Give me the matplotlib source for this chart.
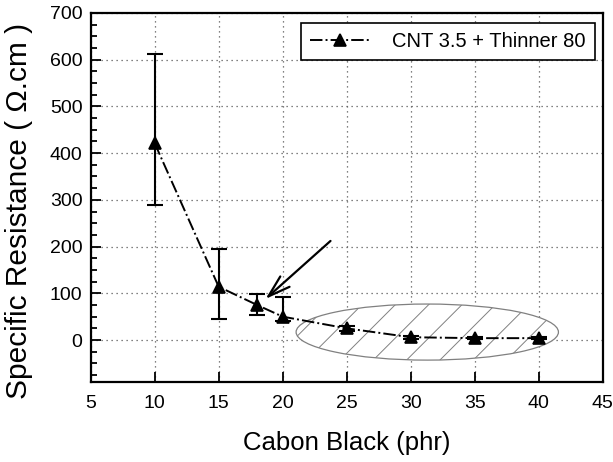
import numpy as np
import matplotlib.pyplot as plt
from matplotlib.patches import Ellipse
from matplotlib.ticker import MultipleLocator

plt.rcParams['font.family'] = ['Liberation Sans', 'DejaVu Sans']
plt.rcParams['hatch.linewidth'] = 0.7

# datos
carbon = [10, 15, 18, 20, 25, 30, 35, 40]
resist = [421, 114, 75, 50, 25, 6, 4, 4]
err_low = [131, 69, 21, 10, 6, 3, 2, 2]
err_up = [191, 80, 23, 41, 6, 3, 2, 2]
etiqueta = "CNT 3.5 + Thinner 80"

fig = plt.figure(figsize=(6.13, 4.62), dpi=100)
ax = fig.add_axes([0.148, 0.173, 0.835, 0.799])

ax.set_xlim(5, 45)
ax.set_ylim(-90, 700)
ax.xaxis.set_major_locator(MultipleLocator(5))
ax.yaxis.set_major_locator(MultipleLocator(100))
ax.yaxis.set_minor_locator(MultipleLocator(25))
ax.tick_params(which='both', direction='in', labelsize=14, width=1.3)
ax.tick_params(which='major', length=7)
ax.tick_params(which='minor', length=4)
ax.tick_params(axis='x', pad=9)
ax.tick_params(axis='y', pad=6)
for s in ax.spines.values():
    s.set_linewidth(1.6)
ax.grid(True, linestyle=(0, (1, 3)), color='0.35', linewidth=0.9)
ax.set_axisbelow(True)

# zona rayada
elipse = Ellipse((31.3, 17), 20.5, 120, facecolor='white', edgecolor='0.5',
                 hatch='/', linewidth=0.9, zorder=2)
ax.add_patch(elipse)

ax.errorbar(carbon, resist, yerr=[err_low, err_up], fmt='none',
            ecolor='black', elinewidth=1.5, capsize=5.5, capthick=1.5, zorder=4)
ax.plot(carbon, resist, linestyle='-.', color='black', linewidth=1.4,
        marker='^', markersize=8, markerfacecolor='black',
        markeredgecolor='black', markeredgewidth=1.2, label=etiqueta, zorder=5)

ax.annotate('', xy=(18.5, 84), xytext=(23.9, 216),
            arrowprops=dict(arrowstyle='->,head_length=1.6,head_width=0.5',
                            color='black', linewidth=1.6), zorder=7)

leg = ax.legend(loc='upper right', fontsize=14.5, fancybox=False, framealpha=1,
                edgecolor='black', handlelength=3.0, borderpad=0.45,
                handletextpad=1.1, borderaxespad=0.3,
                bbox_to_anchor=(0.997, 0.99))
leg.get_frame().set_linewidth(1.2)

ax.set_xlabel('Cabon Black (phr)', fontsize=18.5, labelpad=14)
ax.set_ylabel('Specific Resistance ( \u03a9.cm )', fontsize=21.5)
ax.yaxis.set_label_coords(-0.112, 0.463)

plt.savefig('out.png', dpi=100)
